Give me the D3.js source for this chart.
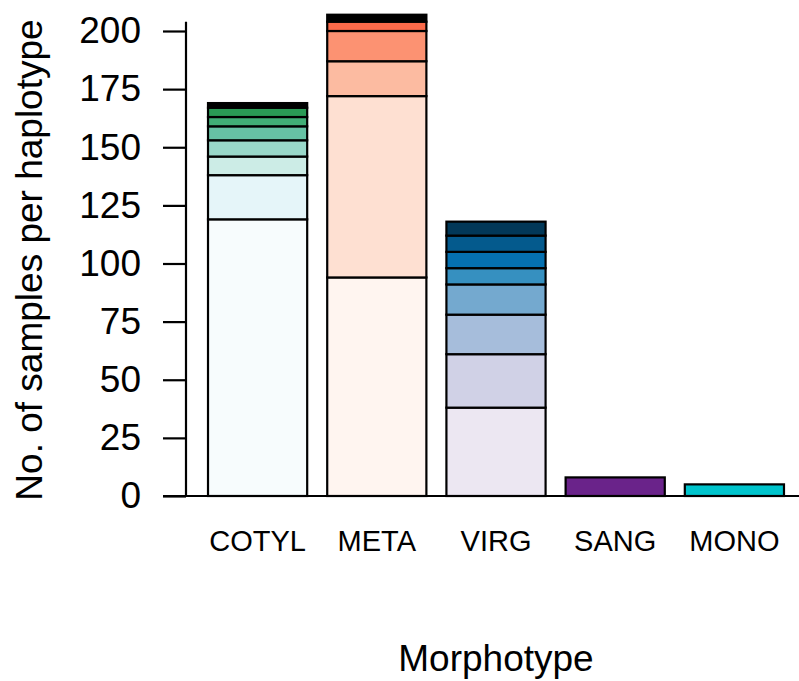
<!DOCTYPE html>
<html lang="en">
<head>
    <meta charset="UTF-8">
    <title>Haplotypes per morphotype</title>
    <script src="https://cdn.jsdelivr.net/npm/d3@7"></script>
    <style>
        body { margin: 0; background: #fff; }
        text { font-family: "Liberation Sans", Arial, sans-serif; fill: #000; }
    </style>
</head>
<body>
<script>
    // categories and haplotype counts (bottom to top)
    var morphotypes = ["COTYL", "META", "VIRG", "SANG", "MONO"];
    var cotylCounts = [119, 19, 8, 7, 6, 4, 4, 2];
    var metaCounts = [94, 78, 15, 13, 4, 3];
    var virgCounts = [38, 23, 17, 13, 7, 7, 7, 6];
    var sangCounts = [8];
    var monoCounts = [5];
    var yTicks = [0, 25, 50, 75, 100, 125, 150, 175, 200];

    // palettes
    var cotylColors = ["#f7fcfd", "#e5f5f9", "#ccece6", "#99d8c9", "#66c2a4", "#41ae76", "#2a9a55", "#000000"];
    var metaColors = ["#fff5f0", "#fee0d2", "#fcbba1", "#fc9272", "#fb6a4a", "#000000"];
    var virgColors = ["#ece7f2", "#d0d1e6", "#a6bddb", "#74a9cf", "#3690c0", "#0570b0", "#045a8d", "#023858"];
    var sangColors = ["#6a238a"];
    var monoColors = ["#00c4cc"];

    var counts = [cotylCounts, metaCounts, virgCounts, sangCounts, monoCounts];
    var colors = [cotylColors, metaColors, virgColors, sangColors, monoColors];

    var width = 799, height = 681;
    var svg = d3.select("body").append("svg").attr("width", width).attr("height", height);

    var x = d3.scaleBand().domain(morphotypes).range([198, 794]).paddingInner(0.168).paddingOuter(0.084);
    var y = d3.scaleLinear().domain([0, 200]).range([496, 31]);

    // stacked segments
    var segs = [];
    morphotypes.forEach(function (m, i) {
        var acc = 0;
        counts[i].forEach(function (v, j) {
            segs.push({ m: m, y0: acc, y1: acc + v, fill: colors[i][j] });
            acc += v;
        });
    });

    svg.append("g").selectAll("rect")
        .data(segs)
        .enter()
        .append("rect")
        .attr("x", function (d) { return x(d.m); })
        .attr("width", x.bandwidth())
        .attr("y", function (d) { return y(d.y1); })
        .attr("height", function (d) { return y(d.y0) - y(d.y1); })
        .attr("fill", function (d) { return d.fill; })
        .attr("stroke", "#000")
        .attr("stroke-width", 2.2);

    // baseline
    svg.append("line")
        .attr("x1", 163).attr("x2", width)
        .attr("y1", y(0)).attr("y2", y(0))
        .attr("stroke", "#000").attr("stroke-width", 2.2);

    // y axis
    var yAxis = d3.axisLeft(y).tickValues(yTicks).tickSize(23).tickPadding(22).tickSizeOuter(0);
    var gy = svg.append("g").attr("transform", "translate(186,0)").call(yAxis);
    gy.select(".domain").remove();
    gy.selectAll(".tick line").attr("stroke", "#000").attr("stroke-width", 2.2);
    gy.selectAll(".tick text").attr("font-size", 37).attr("font-family", "Liberation Sans, Arial, sans-serif").attr("fill", "#000");
    svg.append("line")
        .attr("x1", 186).attr("x2", 186)
        .attr("y1", y(204)).attr("y2", y(0) + 1)
        .attr("stroke", "#000").attr("stroke-width", 2.2);

    // x labels
    svg.append("g").selectAll("text")
        .data(morphotypes)
        .enter()
        .append("text")
        .attr("x", function (d) { return x(d) + x.bandwidth() / 2; })
        .attr("y", 551)
        .attr("text-anchor", "middle")
        .attr("font-size", 29)
        .text(function (d) { return d; });

    // axis titles
    svg.append("text")
        .attr("x", 496).attr("y", 671)
        .attr("text-anchor", "middle")
        .attr("font-size", 37)
        .text("Morphotype");

    svg.append("text")
        .attr("transform", "translate(42,260) rotate(-90)")
        .attr("text-anchor", "middle")
        .attr("font-size", 37)
        .text("No. of samples per haplotype");
</script>
</body>
</html>
